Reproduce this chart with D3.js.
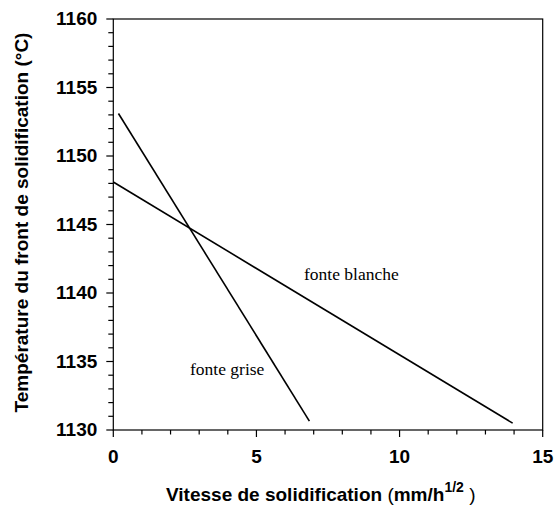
<!DOCTYPE html>
<html>
<head>
<meta charset="utf-8">
<script src="https://cdn.jsdelivr.net/npm/d3@7"></script>
<style>
  body { margin: 0; background: #fff; }
  .tick-label { font-family: Arial, "Liberation Sans", sans-serif; font-weight: bold; font-size: 19px; fill: #000; }
  .axis-title { font-family: Arial, "Liberation Sans", sans-serif; font-weight: bold; font-size: 19px; fill: #000; }
  .curve-label { font-family: "Times New Roman", "Liberation Serif", serif; font-size: 17.5px; fill: #000; }
</style>
</head>
<body>
<svg id="chart" width="554" height="507"></svg>
<script>
// data
var seriesNames = ["fonte grise", "fonte blanche"]
var griseX = [0.18, 6.85]
var griseY = [1153.1, 1130.65]
var blancheX = [0, 13.95]
var blancheY = [1148.1, 1130.5]

var xTicks = [0, 5, 10, 15]
var yTicks = [1130, 1135, 1140, 1145, 1150, 1155, 1160]
var xMinor = d3.range(0, 16, 1)
var yMinor = d3.range(1130, 1161, 1)

var margin = { top: 19, right: 11.3, bottom: 77, left: 113.3 }
var W = 554, H = 507
var width = W - margin.left - margin.right
var height = H - margin.top - margin.bottom

var svg = d3.select("#chart")
var g = svg.append("g")
    .attr("transform", "translate(" + margin.left + "," + margin.top + ")")

var x = d3.scaleLinear().domain([0, 15]).range([0, width])
var y = d3.scaleLinear().domain([1130, 1160]).range([height, 0])

// frame
g.append("rect")
    .attr("width", width)
    .attr("height", height)
    .attr("fill", "none")
    .attr("stroke", "#000")
    .attr("stroke-width", 1.2)

// minor ticks
g.selectAll(".xminor").data(xMinor).enter().append("line")
    .attr("x1", d => x(d)).attr("x2", d => x(d))
    .attr("y1", height).attr("y2", d => height + (d % 5 === 0 ? 7 : 4.5))
    .attr("stroke", "#000").attr("stroke-width", 1.2)

g.selectAll(".yminor").data(yMinor).enter().append("line")
    .attr("y1", d => y(d)).attr("y2", d => y(d))
    .attr("x1", 0).attr("x2", d => (d % 5 === 0 ? -7 : -5))
    .attr("stroke", "#000").attr("stroke-width", 1.2)

// tick labels
g.selectAll(".xlab").data(xTicks).enter().append("text")
    .attr("class", "tick-label")
    .attr("x", d => x(d))
    .attr("y", height + 33)
    .attr("text-anchor", "middle")
    .text(d => d)

g.selectAll(".ylab").data(yTicks).enter().append("text")
    .attr("class", "tick-label")
    .attr("x", -16)
    .attr("y", d => y(d) + 6)
    .attr("text-anchor", "end")
    .text(d => d)

// lines
var line = d3.line().x(d => x(d[0])).y(d => y(d[1]))
var griseData = d3.zip(griseX, griseY)
var blancheData = d3.zip(blancheX, blancheY)

g.append("path").datum(griseData)
    .attr("d", line)
    .attr("fill", "none").attr("stroke", "#000").attr("stroke-width", 1.6)

g.append("path").datum(blancheData)
    .attr("d", line)
    .attr("fill", "none").attr("stroke", "#000").attr("stroke-width", 1.6)

// curve labels
g.append("text").attr("class", "curve-label")
    .attr("x", x(2.68)).attr("y", y(1134.0))
    .text(seriesNames[0])

g.append("text").attr("class", "curve-label")
    .attr("x", x(6.66)).attr("y", y(1140.95))
    .text(seriesNames[1])

// x axis title
var xt = svg.append("text")
    .attr("class", "axis-title")
    .attr("x", 166)
    .attr("y", 501)
xt.append("tspan").text("Vitesse de solidification ")
xt.append("tspan").attr("font-weight", "normal").text("(")
xt.append("tspan").text("mm/h")
xt.append("tspan").attr("font-size", "14px").attr("dy", -9).text("1/2")
xt.append("tspan").attr("font-weight", "normal").attr("dy", 9).text(" )")

// y axis title
svg.append("text")
    .attr("class", "axis-title")
    .attr("transform", "translate(28," + 222.5 + ") rotate(-90)")
    .attr("text-anchor", "middle")
    .text("Température du front de solidification (°C)")
</script>
</body>
</html>
